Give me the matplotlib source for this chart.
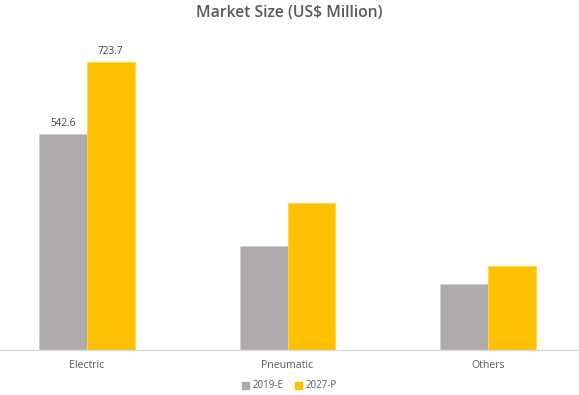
import matplotlib
matplotlib.use("Agg")
import matplotlib.pyplot as plt
import numpy as np
from matplotlib.patches import Patch

categories = ["Electric", "Pneumatic", "Others"]
series_names = ["2019-E", "2027-P"]
values_2019 = [542.6, 262, 165]
values_2027 = [723.7, 370, 211]
labels_2019 = ["542.6", "", ""]
labels_2027 = ["723.7", "", ""]

c_grey = "#AFABAB"
c_gold = "#FFC000"
txt = "#595959"

plt.rcParams['font.family'] = ['Open Sans', 'DejaVu Sans']

fig = plt.figure(figsize=(5.79, 3.95), dpi=100)
ax = fig.add_axes([0, 45/395, 1, 310/395])

x = np.arange(len(categories))
w = 0.237
b1 = ax.bar(x - w/2, values_2019, w, color=c_grey, edgecolor="#D0CECE", linewidth=0.6)
b2 = ax.bar(x + w/2, values_2027, w, color=c_gold, edgecolor="#FFD24D", linewidth=0.6)

for rect, lab in zip(b1, labels_2019):
    if lab:
        ax.text(rect.get_x() + rect.get_width()/2, rect.get_height() + 12, lab,
                ha="center", va="bottom", fontsize=7.2, color="#404040")
for rect, lab in zip(b2, labels_2027):
    if lab:
        ax.text(rect.get_x() + rect.get_width()/2, rect.get_height() + 12, lab,
                ha="center", va="bottom", fontsize=7.2, color="#404040")

ax.set_xlim(-87/200.5, (579-87)/200.5)
ax.set_ylim(0, 779)
for s in ["top", "right", "left"]:
    ax.spines[s].set_visible(False)
ax.spines["bottom"].set_color("#D9D9D9")
ax.spines["bottom"].set_linewidth(1.0)
ax.set_yticks([])
ax.set_xticks(x)
ax.set_xticklabels(categories, fontsize=7.6, color=txt)
ax.tick_params(axis="x", length=0, pad=7)

fig.text(0.5, 1 - 13/395, "Market Size (US$ Million)", ha="center", va="center",
         fontsize=11.3, color=txt, fontweight="semibold")

handles = [Patch(color=c_grey), Patch(color=c_gold)]
fig.legend(handles, series_names, loc="center", bbox_to_anchor=(0.5, 1 - 386/395),
           ncol=2, frameon=False, fontsize=7, labelcolor=txt,
           handlelength=0.7, handleheight=0.7, handletextpad=0.4, columnspacing=1.2)

fig.savefig("out.png", dpi=100)
